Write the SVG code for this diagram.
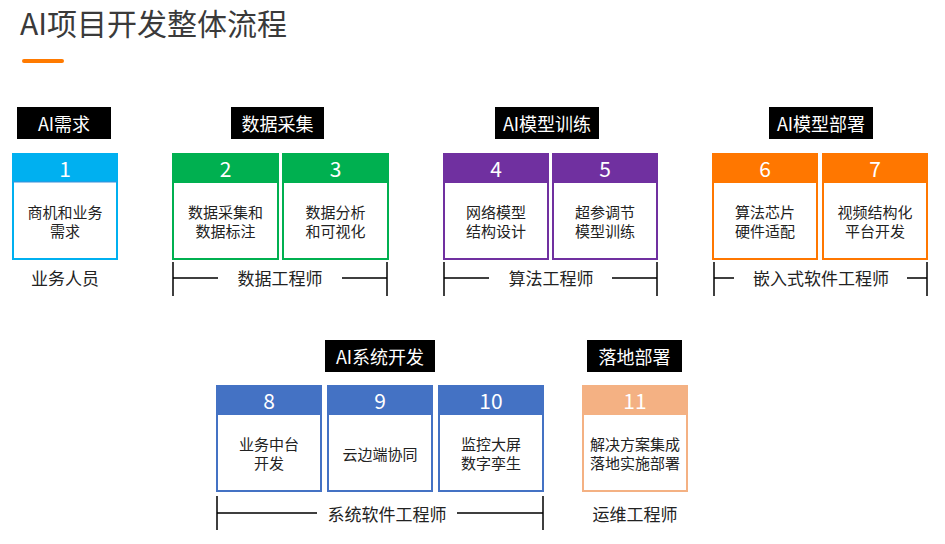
<svg xmlns="http://www.w3.org/2000/svg" width="945" height="544" viewBox="0 0 945 544">
<style>
text{font-family:"Noto Sans CJK SC","Microsoft YaHei",sans-serif;text-anchor:middle;dominant-baseline:central}
.title{font-size:30px;fill:#3a3a3a;text-anchor:start;dominant-baseline:alphabetic}
.lbl rect{fill:#000}
.lbl text{fill:#fff;font-size:18px}
.num{fill:#fff;font-size:21px}
.body{fill:#222;font-size:15px}
.role{fill:#222;font-size:17px}
.box{fill:#fff;stroke-width:2}
.br{stroke:#000;stroke-width:1.5;fill:none}
</style>
<text class="title" x="20" y="35">AI项目开发整体流程</text>
<rect x="22" y="59" width="42" height="4" rx="2" fill="#FF7A00"/>

<g id="label-req" class="lbl"><rect x="17" y="107" width="94" height="32"/><text x="64" y="123">AI需求</text></g>
<g id="label-data" class="lbl"><rect x="231" y="107" width="93" height="32"/><text x="277.5" y="123">数据采集</text></g>
<g id="label-train" class="lbl"><rect x="495" y="107" width="104" height="32"/><text x="547" y="123">AI模型训练</text></g>
<g id="label-deploy" class="lbl"><rect x="769" y="107" width="104" height="32"/><text x="821" y="123">AI模型部署</text></g>
<g id="label-sys" class="lbl"><rect x="325" y="340" width="110" height="32"/><text x="380" y="356">AI系统开发</text></g>
<g id="label-land" class="lbl"><rect x="587" y="340" width="95" height="32"/><text x="634.5" y="356">落地部署</text></g>

<g id="node1"><rect class="box" x="13" y="154" width="104" height="105" stroke="#00B0F0"/><rect x="13" y="154" width="104" height="28" fill="#00B0F0"/><line x1="13" y1="182" x2="117" y2="182" stroke="#3d8fd8" stroke-width="1"/><text class="num" x="65" y="168">1</text><text class="body" x="65" y="211">商机和业务</text><text class="body" x="65" y="230">需求</text></g>
<g id="node2"><rect class="box" x="173" y="154" width="105" height="105" stroke="#00B050"/><rect x="173" y="154" width="105" height="29" fill="#00B050"/><text class="num" x="225.5" y="168">2</text><text class="body" x="225.5" y="211">数据采集和</text><text class="body" x="225.5" y="230">数据标注</text></g>
<g id="node3"><rect class="box" x="283" y="154" width="105" height="105" stroke="#00B050"/><rect x="283" y="154" width="105" height="29" fill="#00B050"/><text class="num" x="335.5" y="168">3</text><text class="body" x="335.5" y="211">数据分析</text><text class="body" x="335.5" y="230">和可视化</text></g>
<g id="node4"><rect class="box" x="444" y="154" width="104" height="105" stroke="#7030A0"/><rect x="444" y="154" width="104" height="29" fill="#7030A0"/><text class="num" x="496" y="168">4</text><text class="body" x="496" y="211">网络模型</text><text class="body" x="496" y="230">结构设计</text></g>
<g id="node5"><rect class="box" x="553" y="154" width="104" height="105" stroke="#7030A0"/><rect x="553" y="154" width="104" height="29" fill="#7030A0"/><text class="num" x="605" y="168">5</text><text class="body" x="605" y="211">超参调节</text><text class="body" x="605" y="230">模型训练</text></g>
<g id="node6"><rect class="box" x="713" y="154" width="104" height="105" stroke="#FF7700"/><rect x="713" y="154" width="104" height="29" fill="#FF7700"/><text class="num" x="765" y="168">6</text><text class="body" x="765" y="211">算法芯片</text><text class="body" x="765" y="230">硬件适配</text></g>
<g id="node7"><rect class="box" x="823" y="154" width="104" height="105" stroke="#FF7700"/><rect x="823" y="154" width="104" height="29" fill="#FF7700"/><text class="num" x="875" y="168">7</text><text class="body" x="875" y="211">视频结构化</text><text class="body" x="875" y="230">平台开发</text></g>

<g id="node8"><rect class="box" x="217" y="386" width="104" height="105" stroke="#4472C4"/><rect x="217" y="386" width="104" height="29" fill="#4472C4"/><text class="num" x="269" y="400">8</text><text class="body" x="269" y="443">业务中台</text><text class="body" x="269" y="462">开发</text></g>
<g id="node9"><rect class="box" x="328" y="386" width="104" height="105" stroke="#4472C4"/><rect x="328" y="386" width="104" height="29" fill="#4472C4"/><text class="num" x="380" y="400">9</text><text class="body" x="380" y="453">云边端协同</text></g>
<g id="node10"><rect class="box" x="439" y="386" width="104" height="105" stroke="#4472C4"/><rect x="439" y="386" width="104" height="29" fill="#4472C4"/><text class="num" x="491" y="400">10</text><text class="body" x="491" y="443">监控大屏</text><text class="body" x="491" y="462">数字孪生</text></g>
<g id="node11"><rect class="box" x="583" y="386" width="104" height="105" stroke="#F4B183"/><rect x="583" y="386" width="104" height="29" fill="#F4B183"/><text class="num" x="635" y="400">11</text><text class="body" x="635" y="443">解决方案集成</text><text class="body" x="635" y="462">落地实施部署</text></g>

<g id="connectors">
<path class="br" d="M173 262V296M173 278H218M342 278H387M387 262V296"/>
<path class="br" d="M444 262V296M444 278H489M612 278H657M657 262V296"/>
<path class="br" d="M714 262V296M714 278H734M907 278H927M927 262V296"/>
<path class="br" d="M217 496V530M217 513H317M457 513H543M543 496V530"/>
</g>
<g id="roles">
<text class="role" x="65" y="277">业务人员</text>
<text class="role" x="280" y="277">数据工程师</text>
<text class="role" x="551" y="277">算法工程师</text>
<text class="role" x="821" y="277">嵌入式软件工程师</text>
<text class="role" x="387" y="513">系统软件工程师</text>
<text class="role" x="635" y="513">运维工程师</text>
</g>
</svg>
